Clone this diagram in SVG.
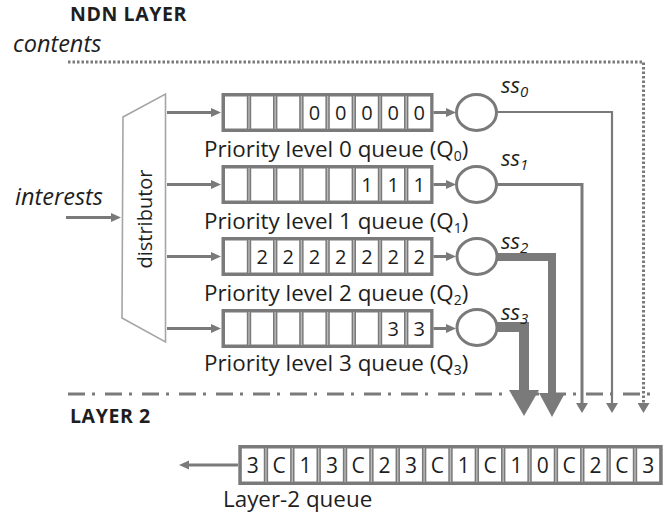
<svg xmlns="http://www.w3.org/2000/svg" xmlns:xlink="http://www.w3.org/1999/xlink" width="665" height="515" viewBox="0 0 665 515">
<style>
text{font-family:"Open Sans","Liberation Sans",sans-serif;fill:#1e1e1e}
.h{font-weight:bold;font-size:19.5px;letter-spacing:0.6px}
.it{font-style:italic;font-size:23.5px}
.ss{font-style:italic;font-size:22px}
.lbl{font-size:22.4px}
.d{font-size:20px;text-anchor:middle}
.d2{font-size:21px;text-anchor:middle}
.qbg{fill:#b9b9b9;stroke:#7a7a7a;stroke-width:3}
.cell{fill:#fff;stroke:#7a7a7a;stroke-width:1.5}
.srv{fill:#fff;stroke:#7a7a7a;stroke-width:3}
.ln{fill:none;stroke:#7a7a7a;stroke-width:3}
.thin{fill:none;stroke:#7a7a7a;stroke-width:2.2}
.dot{fill:none;stroke:#7a7a7a;stroke-width:3;stroke-dasharray:2.5 2}
.dd{fill:none;stroke:#7a7a7a;stroke-width:3;stroke-dasharray:17 7 3 10}
</style>
<defs>
<marker id="arr" markerUnits="userSpaceOnUse" viewBox="0 0 10 10" markerWidth="10" markerHeight="10" refX="1" refY="5" orient="auto"><path d="M0,0.5 L10,5 L0,9.5 z" fill="#7a7a7a"/></marker>
<marker id="arrT" markerUnits="userSpaceOnUse" viewBox="0 0 10 12" markerWidth="10" markerHeight="12" refX="1" refY="6" orient="auto"><path d="M0,0 L10,6 L0,12 z" fill="#7a7a7a"/></marker>
<marker id="big2" markerUnits="userSpaceOnUse" viewBox="0 0 24 26" markerWidth="24" markerHeight="26" refX="1" refY="13" orient="auto"><path d="M0,0 L24,13 L0,26 z" fill="#7a7a7a"/></marker>
<marker id="big3" markerUnits="userSpaceOnUse" viewBox="0 0 26 30" markerWidth="26" markerHeight="30" refX="1" refY="15" orient="auto"><path d="M0,0 L26,15 L0,30 z" fill="#7a7a7a"/></marker>
<rect id="pc" class="cell" width="23.3" height="33.5"/>
<rect id="lc" class="cell" width="23.46" height="34.5"/>
</defs>

<text class="h" x="70" y="21">NDN LAYER</text>
<text class="it" x="13" y="52">contents</text>
<text class="it" x="15" y="205">interests</text>
<text class="h" x="70" y="423">LAYER 2</text>

<g id="connectors">
<path class="dot" d="M68,62 H643.5 V404" marker-end="url(#arrT)"/>
<path class="dd" d="M68,394 H657"/>
<path class="ln" d="M66,217.5 H112" marker-end="url(#arr)"/>
<path class="ln" d="M167,112.5 H212" marker-end="url(#arr)"/>
<path class="ln" d="M167,184.5 H212" marker-end="url(#arr)"/>
<path class="ln" d="M167,256.5 H212" marker-end="url(#arr)"/>
<path class="ln" d="M167,328.5 H212" marker-end="url(#arr)"/>
<path class="ln" d="M433.5,112.5 H447" marker-end="url(#arr)"/>
<path class="ln" d="M433.5,184.5 H447" marker-end="url(#arr)"/>
<path class="ln" d="M433.5,256.5 H447" marker-end="url(#arr)"/>
<path class="ln" d="M433.5,328.5 H447" marker-end="url(#arr)"/>
<path class="thin" d="M496,112 H612 V404" marker-end="url(#arrT)"/>
<path class="ln" d="M496,184.5 H582 V404" marker-end="url(#arrT)"/>
<path fill="none" stroke="#7a7a7a" stroke-width="8" d="M496,257 H552 V394" marker-end="url(#big2)"/>
<path fill="none" stroke="#7a7a7a" stroke-width="10" d="M496,327 H524 V391" marker-end="url(#big3)"/>
<path class="ln" d="M238,465 H188" marker-end="url(#arr)"/>
</g>

<g id="distributor">
<polygon points="123,117 165.5,94 165.5,342 122,318" fill="#fff" stroke="#a5a5a5" stroke-width="1.6"/>
<text class="lbl" style="font-size:20px" transform="translate(152,219) rotate(-90)" text-anchor="middle">distributor</text>
</g>

<g id="q0" transform="translate(0,93)">
<rect class="qbg" x="223" y="1.5" width="209" height="36"/>
<use href="#pc" x="224.25" y="2.75"/><use href="#pc" x="250.45" y="2.75"/><use href="#pc" x="276.65" y="2.75"/><use href="#pc" x="302.85" y="2.75"/><use href="#pc" x="329.05" y="2.75"/><use href="#pc" x="355.25" y="2.75"/><use href="#pc" x="381.45" y="2.75"/><use href="#pc" x="407.65" y="2.75"/>
<text class="d" x="314.5" y="26.5">0</text><text class="d" x="340.7" y="26.5">0</text><text class="d" x="366.9" y="26.5">0</text><text class="d" x="393.1" y="26.5">0</text><text class="d" x="419.3" y="26.5">0</text>
<text class="lbl" x="204" y="64">Priority level 0 queue (Q<tspan font-size="14" dy="4">0</tspan><tspan dy="-4">)</tspan></text>
</g>

<g id="q1" transform="translate(0,165)">
<rect class="qbg" x="223" y="1.5" width="209" height="36"/>
<use href="#pc" x="224.25" y="2.75"/><use href="#pc" x="250.45" y="2.75"/><use href="#pc" x="276.65" y="2.75"/><use href="#pc" x="302.85" y="2.75"/><use href="#pc" x="329.05" y="2.75"/><use href="#pc" x="355.25" y="2.75"/><use href="#pc" x="381.45" y="2.75"/><use href="#pc" x="407.65" y="2.75"/>
<text class="d" x="366.9" y="26.5">1</text><text class="d" x="393.1" y="26.5">1</text><text class="d" x="419.3" y="26.5">1</text>
<text class="lbl" x="204" y="64">Priority level 1 queue (Q<tspan font-size="14" dy="4">1</tspan><tspan dy="-4">)</tspan></text>
</g>

<g id="q2" transform="translate(0,237)">
<rect class="qbg" x="223" y="1.5" width="209" height="36"/>
<use href="#pc" x="224.25" y="2.75"/><use href="#pc" x="250.45" y="2.75"/><use href="#pc" x="276.65" y="2.75"/><use href="#pc" x="302.85" y="2.75"/><use href="#pc" x="329.05" y="2.75"/><use href="#pc" x="355.25" y="2.75"/><use href="#pc" x="381.45" y="2.75"/><use href="#pc" x="407.65" y="2.75"/>
<text class="d" x="262.1" y="26.5">2</text><text class="d" x="288.3" y="26.5">2</text><text class="d" x="314.5" y="26.5">2</text><text class="d" x="340.7" y="26.5">2</text><text class="d" x="366.9" y="26.5">2</text><text class="d" x="393.1" y="26.5">2</text><text class="d" x="419.3" y="26.5">2</text>
<text class="lbl" x="204" y="64">Priority level 2 queue (Q<tspan font-size="14" dy="4">2</tspan><tspan dy="-4">)</tspan></text>
</g>

<g id="q3" transform="translate(0,309)">
<rect class="qbg" x="223" y="1.5" width="209" height="36"/>
<use href="#pc" x="224.25" y="2.75"/><use href="#pc" x="250.45" y="2.75"/><use href="#pc" x="276.65" y="2.75"/><use href="#pc" x="302.85" y="2.75"/><use href="#pc" x="329.05" y="2.75"/><use href="#pc" x="355.25" y="2.75"/><use href="#pc" x="381.45" y="2.75"/><use href="#pc" x="407.65" y="2.75"/>
<text class="d" x="393.1" y="26.5">3</text><text class="d" x="419.3" y="26.5">3</text>
<text class="lbl" x="204" y="62">Priority level 3 queue (Q<tspan font-size="14" dy="4">3</tspan><tspan dy="-4">)</tspan></text>
</g>

<g id="ss0"><ellipse class="srv" cx="476.5" cy="112.5" rx="20" ry="18"/><text class="ss" x="501" y="93">ss<tspan font-size="15" dy="4">0</tspan></text></g>
<g id="ss1"><ellipse class="srv" cx="476.5" cy="184.5" rx="20" ry="18"/><text class="ss" x="501" y="166">ss<tspan font-size="15" dy="4">1</tspan></text></g>
<g id="ss2"><ellipse class="srv" cx="477" cy="256.5" rx="20" ry="18"/><text class="ss" x="501" y="249">ss<tspan font-size="15" dy="4">2</tspan></text></g>
<g id="ss3"><ellipse class="srv" cx="477" cy="327.5" rx="20" ry="18"/><text class="ss" x="501" y="320">ss<tspan font-size="15" dy="4">3</tspan></text></g>

<g id="l2q">
<rect class="qbg" x="239.8" y="446.5" width="421.4" height="37"/>
<use href="#lc" x="241.05" y="447.75"/><use href="#lc" x="267.41" y="447.75"/><use href="#lc" x="293.77" y="447.75"/><use href="#lc" x="320.13" y="447.75"/><use href="#lc" x="346.49" y="447.75"/><use href="#lc" x="372.85" y="447.75"/><use href="#lc" x="399.21" y="447.75"/><use href="#lc" x="425.57" y="447.75"/><use href="#lc" x="451.93" y="447.75"/><use href="#lc" x="478.29" y="447.75"/><use href="#lc" x="504.65" y="447.75"/><use href="#lc" x="531.01" y="447.75"/><use href="#lc" x="557.37" y="447.75"/><use href="#lc" x="583.73" y="447.75"/><use href="#lc" x="610.09" y="447.75"/><use href="#lc" x="636.45" y="447.75"/>
<text class="d2" x="252.8" y="473">3</text><text class="d2" x="279.1" y="473">C</text><text class="d2" x="305.5" y="473">1</text><text class="d2" x="331.9" y="473">3</text><text class="d2" x="358.2" y="473">C</text><text class="d2" x="384.6" y="473">2</text><text class="d2" x="411.0" y="473">3</text><text class="d2" x="437.3" y="473">C</text><text class="d2" x="463.7" y="473">1</text><text class="d2" x="490.0" y="473">C</text><text class="d2" x="516.4" y="473">1</text><text class="d2" x="542.8" y="473">0</text><text class="d2" x="569.1" y="473">C</text><text class="d2" x="595.5" y="473">2</text><text class="d2" x="621.8" y="473">C</text><text class="d2" x="648.2" y="473">3</text>
<text class="lbl" x="223" y="507">Layer-2 queue</text>
</g>
</svg>
